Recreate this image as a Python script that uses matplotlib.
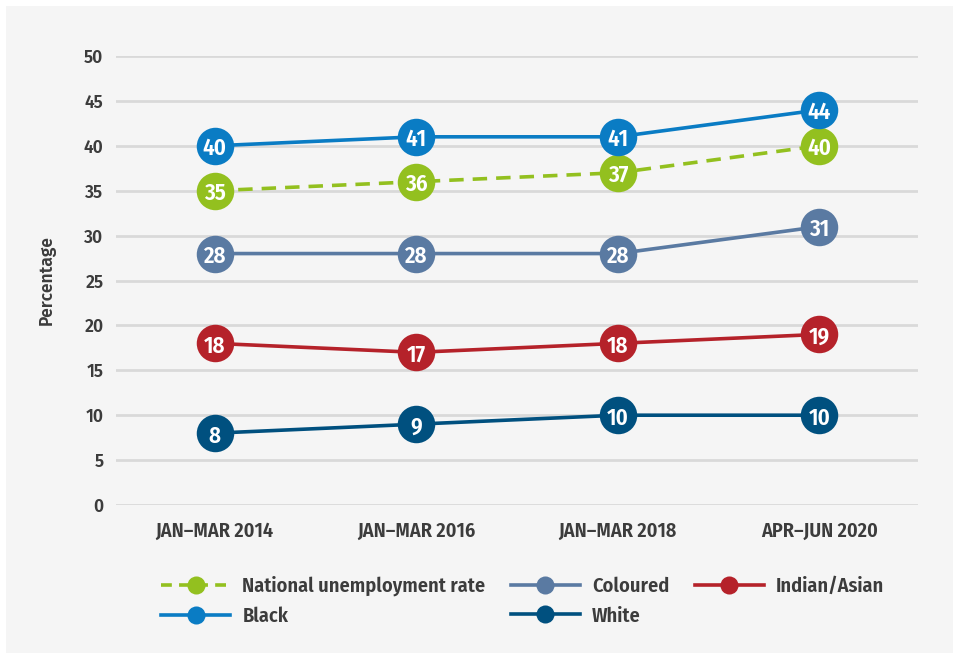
import matplotlib.pyplot as plt
from matplotlib.patches import Rectangle

plt.rcParams["font.family"] = ["Fira Sans Condensed", "DejaVu Sans"]
plt.rcParams["font.weight"] = 600

periods = ["JAN–MAR 2014", "JAN–MAR 2016", "JAN–MAR 2018", "APR–JUN 2020"]
national = [35, 36, 37, 40]
black = [40, 41, 41, 44]
coloured = [28, 28, 28, 31]
indian_asian = [18, 17, 18, 19]
white = [8, 9, 10, 10]

series = [
    ("National unemployment rate", national, "#93c01f", "--"),
    ("Black", black, "#0a7cc4", "-"),
    ("Coloured", coloured, "#5a7aa2", "-"),
    ("White", white, "#00507f", "-"),
    ("Indian/Asian", indian_asian, "#b5222a", "-"),
]
# national goes under the solid lines
draw_order = [4, 3, 2, 0, 1]

text_color = "#3c3c3c"
wide_font = ["Fira Sans", "DejaVu Sans"]

fig = plt.figure(figsize=(9.59, 6.59), dpi=100)
fig.patch.set_facecolor("white")
bg = Rectangle((6 / 959, 6 / 659), 947 / 959, 647 / 659,
               transform=fig.transFigure, facecolor="#f5f5f5",
               edgecolor="none", zorder=-10)
fig.patches.append(bg)

ax = fig.add_axes([116 / 959, 1 - 505 / 659, 802 / 959, 449 / 659])
ax.set_facecolor("none")

x = list(range(len(periods)))
for i in draw_order:
    label, values, color, ls = series[i]
    ax.plot(x, values, color=color, linestyle=ls, linewidth=2.6,
            dashes=(4, 2.5) if ls == "--" else (None, None),
            marker="o", markersize=27, markeredgewidth=0,
            zorder=3 + i * 0.1)
    for xi, v in zip(x, values):
        ax.text(xi, v - 0.3, str(v), color="white", fontsize=16.5, fontweight=600,
                ha="center", va="center", zorder=3.05 + i * 0.1)

ax.set_xlim(-0.49, 3.49)
ax.set_ylim(0, 50)
ax.set_yticks(range(0, 51, 5))
ax.set_xticks(x)
ax.set_xticklabels(periods)
ax.grid(axis="y", color="#d9d9d9", linewidth=2)
ax.set_axisbelow(True)
for s in ax.spines.values():
    s.set_visible(False)
ax.tick_params(length=0, colors=text_color)
ax.tick_params(axis="x", labelsize=14.5, pad=12)
ax.tick_params(axis="y", labelsize=12.5, pad=9)
for t in ax.get_yticklabels():
    t.set_family(wide_font)
ax.set_ylabel("Percentage", fontsize=12.5, color=text_color, labelpad=20,
              family=wide_font, fontweight=600)

# legend markers are smaller than the labelled points
leg_handles = []
for label, values, color, ls in series:
    h, = ax.plot([], [], color=color, linestyle=ls, linewidth=2.6,
                 dashes=(3, 2) if ls == "--" else (None, None),
                 marker="o", markersize=13, markeredgewidth=0, label=label)
    leg_handles.append(h)

fig.legend(handles=leg_handles, loc="center", ncol=3,
           bbox_to_anchor=(0.545, 1 - 601 / 659), frameon=False,
           fontsize=14.6, handlelength=3.4, columnspacing=1.25,
           labelspacing=0.5, handletextpad=0.6, labelcolor=text_color)

fig.savefig("out.png", dpi=100)
